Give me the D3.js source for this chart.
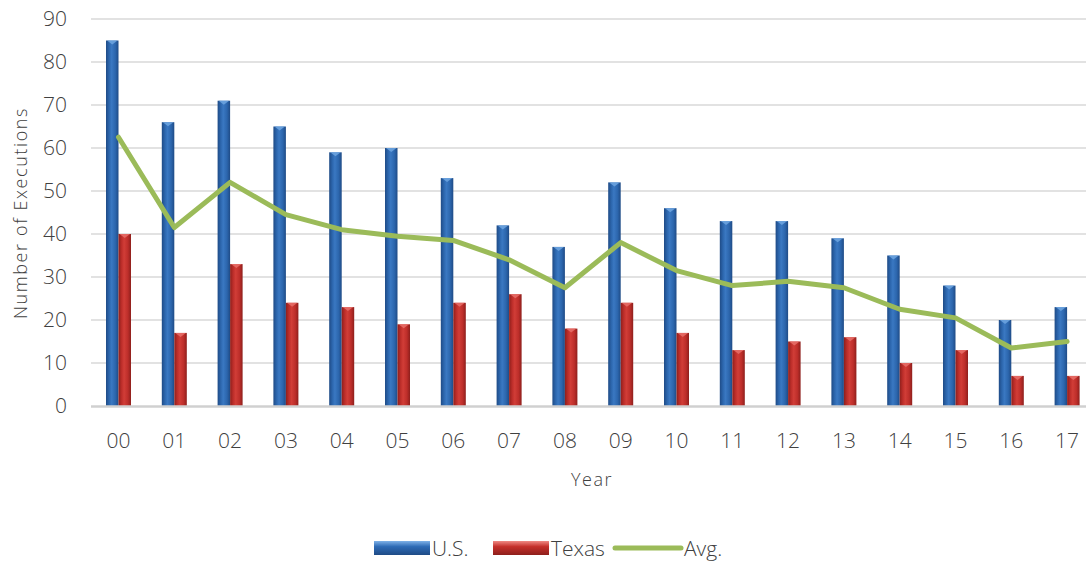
<!DOCTYPE html>
<html>
<head>
<meta charset="utf-8">
<script src="https://cdn.jsdelivr.net/npm/d3@7"></script>
<style>
  body { margin: 0; background: #fff; }
  text { font-family: "Open Sans", "Noto Sans", sans-serif; fill: #404040; }
</style>
</head>
<body>
<div id="chart"></div>
<script>
const years = ["00","01","02","03","04","05","06","07","08","09","10","11","12","13","14","15","16","17"];
const usValues = [85, 66, 71, 65, 59, 60, 53, 42, 37, 52, 46, 43, 43, 39, 35, 28, 20, 23];
const texasValues = [40, 17, 33, 24, 23, 19, 24, 26, 18, 24, 17, 13, 15, 16, 10, 13, 7, 7];
const avgValues = [62.5, 41.5, 52, 44.5, 41, 39.5, 38.5, 34, 27.5, 38, 31.5, 28, 29, 27.5, 22.5, 20.5, 13.5, 15];
const yTicks = [0, 10, 20, 30, 40, 50, 60, 70, 80, 90];

let width = 1086;
let height = 562;

let svg = d3.select("#chart")
    .append("svg")
    .attr("width", width)
    .attr("height", height);

let defs = svg.append("defs");

function barGradient(id, dark, mid, light) {
    let g = defs.append("linearGradient")
        .attr("id", id)
        .attr("x1", "0%").attr("x2", "100%")
        .attr("y1", "0%").attr("y2", "0%");
    g.append("stop").attr("offset", "0%").attr("stop-color", dark);
    g.append("stop").attr("offset", "25%").attr("stop-color", mid);
    g.append("stop").attr("offset", "45%").attr("stop-color", light);
    g.append("stop").attr("offset", "75%").attr("stop-color", mid);
    g.append("stop").attr("offset", "100%").attr("stop-color", dark);
}
barGradient("gradUS", "#1f4b86", "#2c66ad", "#3a78c2");
barGradient("gradTX", "#8e1f1c", "#bd2e2a", "#d13d37");

// plot runs off the right edge a bit, like the original
let xScale = d3.scaleBand()
    .domain(years)
    .range([90.6, 1095]);

let yScale = d3.scaleLinear()
    .domain([0, 90])
    .range([406, 19]);

// gridlines
svg.append("g")
    .selectAll("line")
    .data(yTicks.slice(1))
    .join("line")
    .attr("x1", 91)
    .attr("x2", width)
    .attr("y1", d => yScale(d))
    .attr("y2", d => yScale(d))
    .attr("stroke", "#d9d9d9")
    .attr("stroke-width", 1.5);

// y axis labels
let yAxis = d3.axisLeft(yScale)
    .tickValues(yTicks)
    .tickSize(0)
    .tickPadding(0);

let yG = svg.append("g")
    .attr("transform", "translate(67, 0)")
    .call(yAxis);
yG.select(".domain").remove();
yG.selectAll("text")
    .attr("font-size", "21px")
    .attr("font-weight", 300)
    .style("font-family", "'Open Sans', sans-serif")
    .attr("fill", "#404040");

// bars
let barW = 12.5;
let cap = 4;

function drawBars(values, xOff, grad, capColor) {
    let g = svg.append("g");
    g.selectAll("rect")
        .data(values)
        .join("rect")
        .attr("x", (d, i) => xScale(years[i]) + xScale.bandwidth() / 2 + xOff)
        .attr("y", d => yScale(d))
        .attr("width", barW)
        .attr("height", d => yScale(0) - yScale(d))
        .attr("fill", `url(#${grad})`);
    g.selectAll("path")
        .data(values)
        .join("path")
        .attr("d", (d, i) => {
            let x0 = xScale(years[i]) + xScale.bandwidth() / 2 + xOff;
            let y0 = yScale(d);
            return `M${x0 + 1},${y0} L${x0 + barW - 1},${y0} L${x0 + barW / 2},${y0 + cap} Z`;
        })
        .attr("fill", capColor)
        .attr("opacity", 0.85);
}
drawBars(usValues, -barW, "gradUS", "#6fa6e0");
drawBars(texasValues, 0, "gradTX", "#e8706a");

// baseline
svg.append("line")
    .attr("x1", 91)
    .attr("x2", width)
    .attr("y1", yScale(0) + 0.5)
    .attr("y2", yScale(0) + 0.5)
    .attr("stroke", "#d0d0d0")
    .attr("stroke-width", 2.5);

// avg line
let lineGenerator = d3.line()
    .x((d, i) => xScale(years[i]) + xScale.bandwidth() / 2)
    .y(d => yScale(d));

svg.append("path")
    .datum(avgValues)
    .attr("d", lineGenerator)
    .attr("fill", "none")
    .attr("stroke", "#9bbb59")
    .attr("stroke-width", 5)
    .attr("stroke-linejoin", "round")
    .attr("stroke-linecap", "round");

// x axis labels
let xAxis = d3.axisBottom(xScale)
    .tickSize(0)
    .tickPadding(0);

let xG = svg.append("g")
    .attr("transform", "translate(0, 433)")
    .call(xAxis);
xG.select(".domain").remove();
xG.selectAll("text")
    .attr("font-size", "21px")
    .attr("font-weight", 300)
    .style("font-family", "'Open Sans', sans-serif")
    .attr("fill", "#404040");

// axis titles
svg.append("text")
    .attr("x", 592)
    .attr("y", 486)
    .attr("text-anchor", "middle")
    .attr("font-size", "18px")
    .attr("font-weight", 300)
    .attr("letter-spacing", "1.5px")
    .text("Year");

svg.append("text")
    .attr("text-anchor", "middle")
    .attr("font-size", "18px")
    .attr("font-weight", 300)
    .attr("letter-spacing", "1.6px")
    .attr("transform", "translate(27, 213) rotate(-90)")
    .text("Number of Executions");

// legend
let legend = svg.append("g");
let legendItems = [
    { label: "U.S.", type: "bar", grad: "gradUSv", x: 374 },
    { label: "Texas", type: "bar", grad: "gradTXv", x: 493 },
    { label: "Avg.", type: "line", x: 612 }
];

function vGradient(id, top, mid, bottom) {
    let g = defs.append("linearGradient")
        .attr("id", id)
        .attr("x1", "0%").attr("x2", "0%")
        .attr("y1", "0%").attr("y2", "100%");
    g.append("stop").attr("offset", "0%").attr("stop-color", top);
    g.append("stop").attr("offset", "40%").attr("stop-color", mid);
    g.append("stop").attr("offset", "100%").attr("stop-color", bottom);
}
vGradient("gradUSv", "#7fb2e8", "#2e6bb5", "#1f4b86");
vGradient("gradTXv", "#f08a84", "#c5302b", "#8e1f1c");

legendItems.forEach((d) => {
    if (d.type === "bar") {
        legend.append("rect")
            .attr("x", d.x)
            .attr("y", 541)
            .attr("width", 56)
            .attr("height", 14)
            .attr("fill", `url(#${d.grad})`);
        legend.append("text")
            .attr("x", d.x + 58)
            .attr("y", 556)
            .attr("font-size", "21px")
            .attr("font-weight", 300)
            .text(d.label);
    } else {
        legend.append("line")
            .attr("x1", d.x + 3)
            .attr("x2", d.x + 69)
            .attr("y1", 548)
            .attr("y2", 548)
            .attr("stroke", "#9bbb59")
            .attr("stroke-width", 5)
            .attr("stroke-linecap", "round");
        legend.append("text")
            .attr("x", d.x + 72)
            .attr("y", 556)
            .attr("font-size", "21px")
            .attr("font-weight", 300)
            .text(d.label);
    }
});
</script>
</body>
</html>
